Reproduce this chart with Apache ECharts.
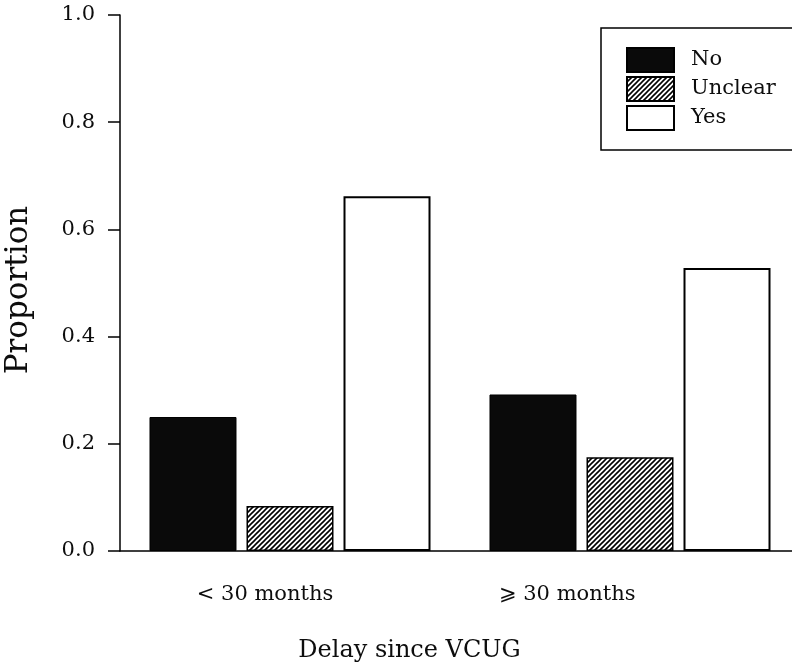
<!DOCTYPE html>
<html>
<head>
<meta charset="utf-8">
<script src="https://cdn.jsdelivr.net/npm/echarts@6/dist/echarts.min.js"></script>
<style>
  html, body { margin: 0; padding: 0; background: #fff; }
  #chart { width: 792px; height: 669px; }
</style>
</head>
<body>
<div id="chart"></div>
<script>
// Proportions of outcomes by delay since VCUG
const categories = ['< 30 months', '\u2A7E 30 months'];
const seriesNames = ['No', 'Unclear', 'Yes'];
const noValues = [0.25, 0.292];
const unclearValues = [0.084, 0.175];
const yesValues = [0.662, 0.528];
const yTicks = [0.0, 0.2, 0.4, 0.6, 0.8, 1.0];

const FONT = 'DejaVu Serif';
const INK = '#0d0d0d';

// Diagonal hatch tile for the "Unclear" bars
function hatchTile() {
  const s = 5;
  const c = document.createElement('canvas');
  c.width = s; c.height = s;
  const g = c.getContext('2d');
  g.fillStyle = '#fff';
  g.fillRect(0, 0, s, s);
  g.strokeStyle = '#000';
  g.lineWidth = 1.6;
  g.beginPath();
  g.moveTo(0, s); g.lineTo(s, 0);
  g.moveTo(-1, 1); g.lineTo(1, -1);
  g.moveTo(s - 1, s + 1); g.lineTo(s + 1, s - 1);
  g.stroke();
  return c;
}

const chart = echarts.init(document.getElementById('chart'), null, { renderer: 'canvas' });

const labelShift = [50, 126];

chart.setOption({
  animation: false,
  backgroundColor: '#fff',
  grid: {
    left: 120, top: 15, width: 680, bottom: 118,
    containLabel: false, outerBoundsMode: 'none'
  },
  legend: {
    data: seriesNames,
    orient: 'vertical',
    left: 601,
    top: 28,
    icon: 'rect',
    backgroundColor: '#fff',
    borderColor: '#000',
    borderWidth: 1.5,
    borderRadius: 0,
    padding: [19, 40, 19, 25],
    itemWidth: 47,
    itemHeight: 24,
    itemGap: 3,
    selectedMode: false,
    textStyle: { fontFamily: FONT, fontSize: 21, lineHeight: 24, color: INK, padding: [0, 0, 0, 12] }
  },
  xAxis: {
    type: 'category',
    data: categories.map((c, i) => ({
      value: c,
      textStyle: { padding: [0, labelShift[i], 0, 0] }
    })),
    boundaryGap: true,
    axisLine: { show: true, lineStyle: { color: '#000', width: 1.5 } },
    axisTick: { show: false },
    axisLabel: { fontFamily: FONT, fontSize: 21, color: INK, margin: 33 },
    splitLine: { show: false },
    name: 'Delay since VCUG',
    nameLocation: 'middle',
    nameGap: 88,
    nameTextStyle: { fontFamily: FONT, fontSize: 24, color: INK, padding: [0, 101, 0, 0] }
  },
  yAxis: {
    type: 'value',
    min: yTicks[0],
    max: yTicks[yTicks.length - 1],
    interval: 0.2,
    axisLine: { show: true, lineStyle: { color: '#000', width: 1.5 } },
    axisTick: { show: true, inside: false, length: 12, lineStyle: { color: '#000', width: 1.5 } },
    axisLabel: {
      fontFamily: FONT, fontSize: 21, color: INK, margin: 25,
      formatter: v => v.toFixed(1)
    },
    splitLine: { show: false },
    name: 'Proportion',
    nameLocation: 'middle',
    nameRotate: 90,
    nameGap: 86,
    nameTextStyle: { fontFamily: FONT, fontSize: 31, color: INK, padding: [0, 14, 0, 0] }
  },
  series: [
    {
      name: seriesNames[0], type: 'bar', data: noValues,
      barWidth: 87, barGap: '11.5%',
      itemStyle: { color: '#0a0a0a', borderColor: '#000', borderWidth: 1 }
    },
    {
      name: seriesNames[1], type: 'bar', data: unclearValues,
      barWidth: 87, barGap: '11.5%',
      itemStyle: { color: { image: hatchTile(), repeat: 'repeat' }, borderColor: '#000', borderWidth: 1.5 }
    },
    {
      name: seriesNames[2], type: 'bar', data: yesValues,
      barWidth: 87, barGap: '11.5%',
      itemStyle: { color: '#fff', borderColor: '#000', borderWidth: 2 }
    }
  ]
});
</script>
</body>
</html>
